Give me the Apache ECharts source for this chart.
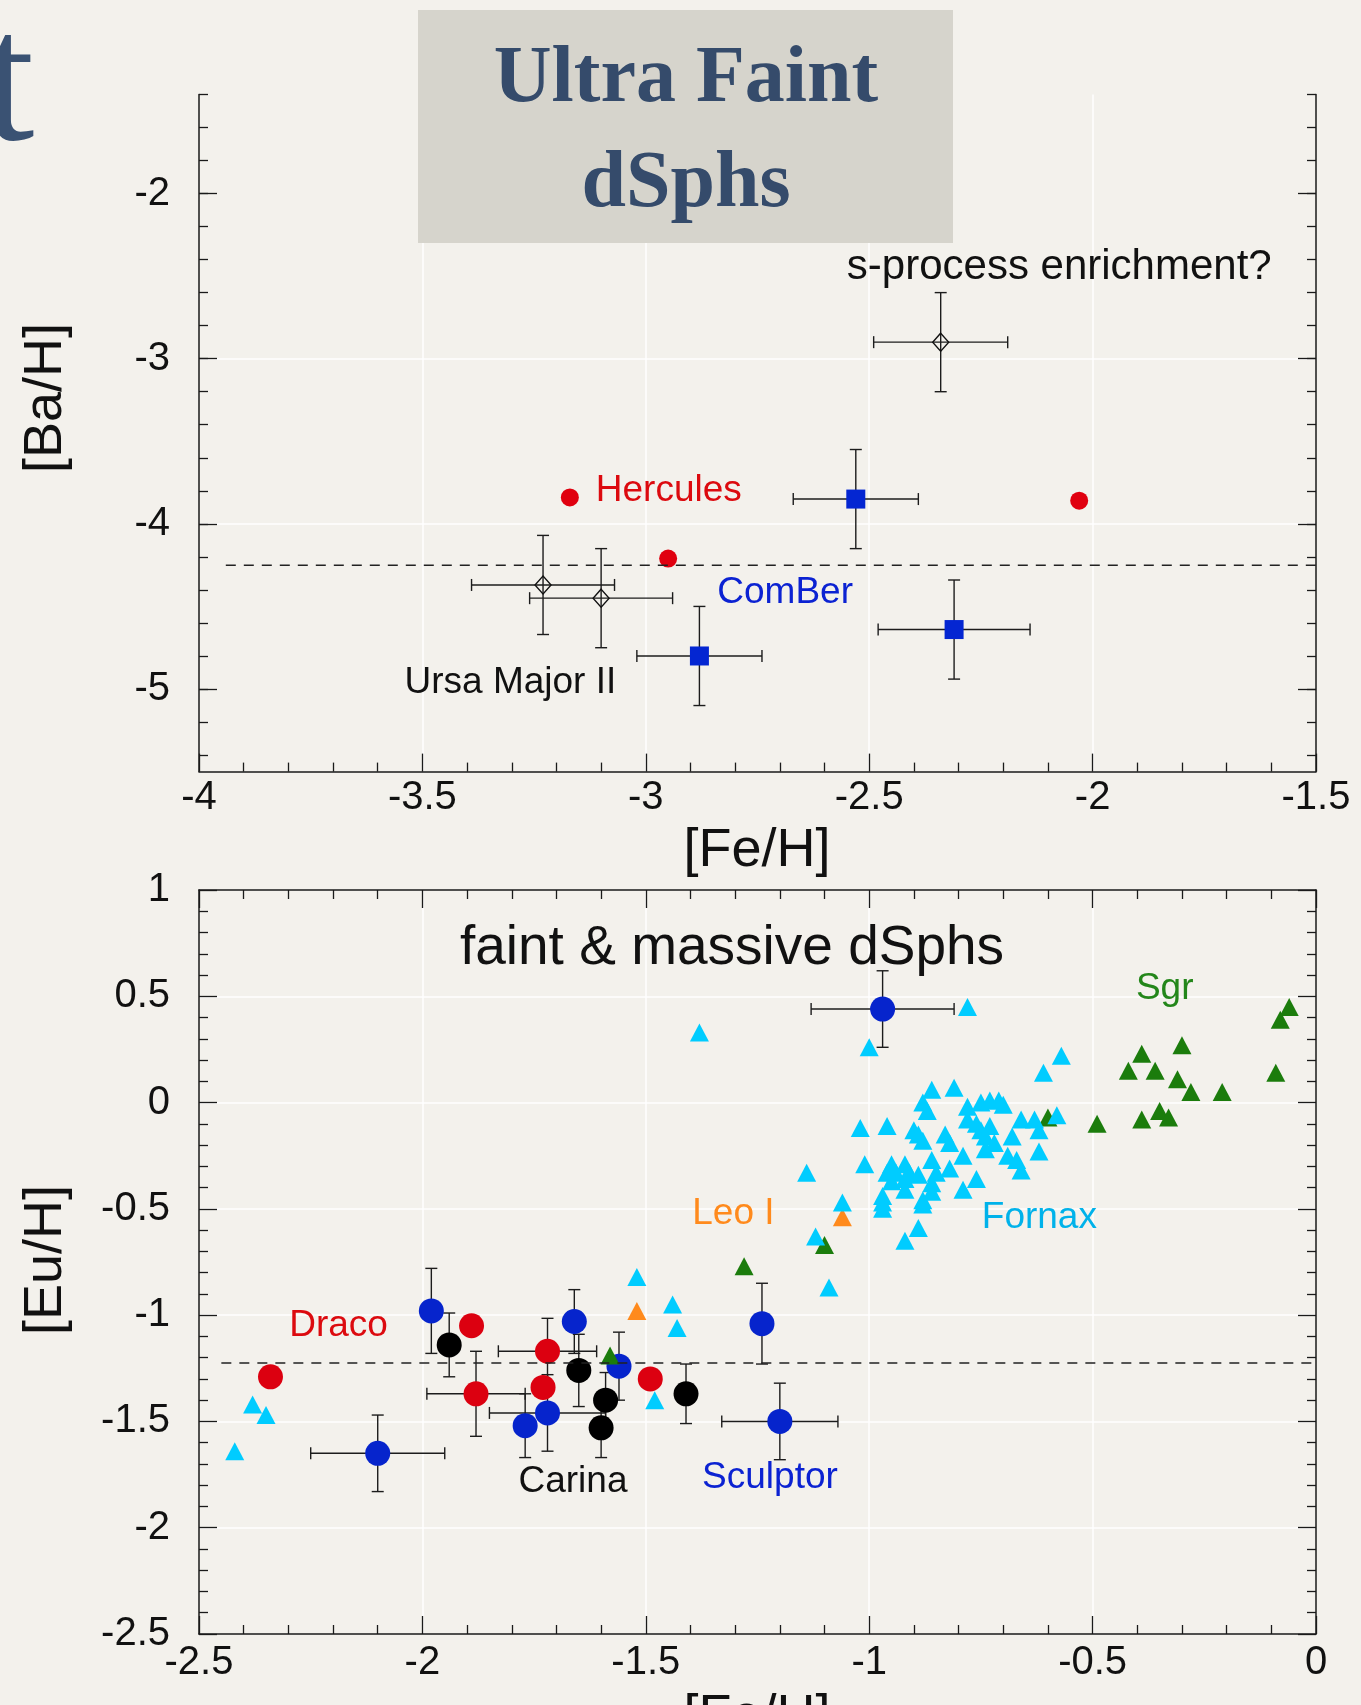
<!DOCTYPE html>
<html>
<head>
<meta charset="utf-8">
<title>Ba and Eu abundances in dwarf spheroidals</title>
<script src="https://cdn.jsdelivr.net/npm/echarts@6/dist/echarts.min.js"></script>
<style>
  html, body { margin: 0; padding: 0; background: #f3f1ec; }
  #chart { width: 1361px; height: 1705px; }
</style>
</head>
<body>
<div id="chart"></div>
<script>
// ---------- upper panel: [Ba/H] vs [Fe/H], ultra faint dSphs ----------
// Ursa Major II stars (plus the s-process candidate), with errors
const umaFe    = [-3.23, -3.10, -2.34];
const umaBa    = [-4.37, -4.45, -2.90];
const umaFeErr = [0.16, 0.16, 0.15];
const umaBaErr = [0.30, 0.30, 0.30];
// Hercules
const herFe = [-3.17, -2.95, -2.03];
const herBa = [-3.84, -4.21, -3.86];
// Coma Berenices
const cbFe    = [-2.53, -2.88, -2.31];
const cbBa    = [-3.85, -4.80, -4.64];
const cbFeErr = [0.14, 0.14, 0.17];
const cbBaErr = [0.30, 0.30, 0.30];
// reference level (dashed)
const baRef = -4.25;
const baRefFrom = -3.94;
// axis ticks
const feTicksTop   = [-4, -3.5, -3, -2.5, -2, -1.5];
const baTicks      = [-5, -4, -3, -2];
const baMinorTicks = [-5.4, -5.2, -5.0, -4.8, -4.6, -4.4, -4.2, -4.0, -3.8, -3.6, -3.4,
                      -3.2, -3.0, -2.8, -2.6, -2.4, -2.2, -2.0, -1.8, -1.6, -1.4];

// ---------- lower panel: [Eu/H] vs [Fe/H], faint & massive dSphs ----------
// Sculptor
const sclFe    = [-0.97, -1.98, -1.66, -1.56, -1.72, -1.77, -2.10, -1.24, -1.20];
const sclEu    = [0.44, -0.98, -1.03, -1.24, -1.46, -1.52, -1.65, -1.04, -1.50];
const sclFeErr = [0.16, 0, 0, 0, 0.13, 0, 0.15, 0, 0.13];
const sclEuErr = [0.18, 0.20, 0.15, 0.16, 0.18, 0.15, 0.18, 0.19, 0.18];
// Draco
const draFe    = [-2.34, -1.89, -1.88, -1.72, -1.73, -1.49];
const draEu    = [-1.29, -1.05, -1.37, -1.17, -1.34, -1.30];
const draFeErr = [0, 0, 0.11, 0.11, 0, 0];
const draEuErr = [0, 0, 0.20, 0.155, 0, 0];
// Carina
const carFe    = [-1.94, -1.65, -1.59, -1.60, -1.41];
const carEu    = [-1.14, -1.26, -1.40, -1.53, -1.37];
const carEuErr = [0.15, 0.17, 0.13, 0.14, 0.14];
// Sagittarius
const sgrFe = [-0.06, -0.08, -0.30, -0.39, -0.42, -0.36, -0.31, -0.09, -0.28, -0.21,
               -0.35, -0.33, -0.39, -0.49, -0.60, -1.10, -1.28, -1.58];
const sgrEu = [0.45, 0.39, 0.27, 0.23, 0.15, 0.15, 0.11, 0.14, 0.05, 0.05,
               -0.04, -0.07, -0.08, -0.10, -0.07, -0.67, -0.77, -1.19];
// Leo I
const leoFe = [-1.06, -1.52];
const leoEu = [-0.54, -0.98];
// Fornax
const fnxFe = [-1.00, -0.57, -0.61, -0.86, -0.81, -0.88, -0.87, -0.78, -0.75, -0.73,
               -0.71, -0.70, -0.66, -0.63, -0.58, -0.62, -1.02, -0.96, -0.90, -0.89,
               -0.88, -0.83, -0.82, -0.78, -0.76, -0.75, -0.73, -0.74, -0.72, -0.74,
               -0.68, -0.62, -0.69, -0.67, -0.66, -0.79, -1.01, -0.95, -0.96, -0.92,
               -0.94, -0.91, -0.89, -0.92, -0.95, -0.86, -0.85, -0.82, -0.76, -0.79,
               -0.86, -0.86, -0.92, -0.97, -0.97, -0.97, -0.88, -0.88, -1.06, -0.89,
               -0.92, -1.38, -0.78, -1.14, -1.12, -1.09, -2.38, -2.35, -2.42, -1.52,
               -1.44, -1.43, -1.48];
const fnxEu = [0.26, 0.22, 0.14, 0.06, 0.07, 0.00, -0.04, -0.02, 0.00, 0.01,
               0.01, -0.01, -0.08, -0.08, -0.06, -0.13, -0.12, -0.11, -0.13, -0.15,
               -0.18, -0.15, -0.19, -0.08, -0.10, -0.13, -0.11, -0.16, -0.19, -0.22,
               -0.16, -0.23, -0.25, -0.27, -0.32, -0.25, -0.29, -0.29, -0.33, -0.29,
               -0.33, -0.33, -0.34, -0.36, -0.37, -0.27, -0.33, -0.31, -0.36, -0.41,
               -0.38, -0.42, -0.41, -0.44, -0.47, -0.50, -0.46, -0.48, -0.47, -0.59,
               -0.65, 0.33, 0.45, -0.33, -0.63, -0.87, -1.42, -1.47, -1.64, -0.82,
               -0.95, -1.06, -1.40];
// reference level (dashed)
const euRef = -1.225;
const euRefFrom = -2.45;
const feTicksBottom = [-2.5, -2, -1.5, -1, -0.5, 0];
const euTicks = [1, 0.5, 0, -0.5, -1, -1.5, -2, -2.5];

// annotations placed at data coordinates (left edge of text)
const topNotes = [
  { text: 'Hercules', fe: -3.112, ab: -3.80, color: '#dc0a0f' },
  { text: 'ComBer', fe: -2.840, ab: -4.415, color: '#0b22d2' },
  { text: 'Ursa Major II', fe: -3.540, ab: -4.96, color: '#111111' },
  { text: 's-process enrichment?', fe: -2.550, ab: -2.447, color: '#111111', size: 42 }
];
const bottomNotes = [
  { text: 'faint & massive dSphs', fe: -1.916, ab: 0.722, color: '#111111', size: 55 },
  { text: 'Sgr', fe: -0.403, ab: 0.533, color: '#23861a' },
  { text: 'Fornax', fe: -0.748, ab: -0.540, color: '#00b2ea' },
  { text: 'Leo I', fe: -1.396, ab: -0.525, color: '#ff8a1c' },
  { text: 'Draco', fe: -2.298, ab: -1.051, color: '#dc0a0f' },
  { text: 'Carina', fe: -1.785, ab: -1.783, color: '#111111' },
  { text: 'Sculptor', fe: -1.374, ab: -1.767, color: '#0b22d2' }
];

// ---------- drawing ----------
const SANS = "'Liberation Sans', Arial, Helvetica, sans-serif";
const SERIF = "'Liberation Serif', 'Times New Roman', serif";
const INK = '#1a1a1a';

const pairs = (xs, ys) => xs.map((v, i) => [v, ys[i]]);
const withErr = (xs, ys, ex, ey) => xs.map((v, i) => [v, ys[i], ex ? ex[i] : 0, ey ? ey[i] : 0]);

function renderErrorBar(params, api) {
  const x = api.value(0), y = api.value(1), ex = api.value(2), ey = api.value(3);
  const cap = 6;
  const kids = [];
  const seg = (x1, y1, x2, y2) => kids.push({
    type: 'line', shape: { x1, y1, x2, y2 },
    style: { stroke: '#1c1c1c', lineWidth: 1.4 }
  });
  if (ex > 0) {
    const a = api.coord([x - ex, y]), b = api.coord([x + ex, y]);
    seg(a[0], a[1], b[0], b[1]);
    seg(a[0], a[1] - cap, a[0], a[1] + cap);
    seg(b[0], b[1] - cap, b[0], b[1] + cap);
  }
  if (ey > 0) {
    const a = api.coord([x, y - ey]), b = api.coord([x, y + ey]);
    seg(a[0], a[1], b[0], b[1]);
    seg(a[0] - cap, a[1], a[0] + cap, a[1]);
    seg(b[0] - cap, b[1], b[0] + cap, b[1]);
  }
  return { type: 'group', children: kids };
}

const axisLine = { show: true, onZero: false, lineStyle: { color: INK, width: 1.5 } };
const noLine = { show: false, onZero: false };
const tickStyle = { color: INK, width: 1.3 };
const gridLines = {
  show: true, showMinLine: false, showMaxLine: false,
  lineStyle: { color: 'rgba(255,255,255,0.95)', width: 1.5 }
};
const tickFont = { fontSize: 40, color: '#111111', fontFamily: SANS };

function marks(symbol, size, color, data, xi, yi, extra) {
  return {
    type: 'scatter', xAxisIndex: xi, yAxisIndex: yi, symbol, symbolSize: size,
    itemStyle: Object.assign({ color, opacity: 1 }, extra || {}), data
  };
}

function noteSeries(notes, xi, yi) {
  return {
    type: 'scatter', xAxisIndex: xi, yAxisIndex: yi, silent: true, z: 5,
    symbolSize: 0, itemStyle: { color: 'rgba(0,0,0,0)', opacity: 1 },
    data: notes.map(n => ({
      name: n.text, value: [n.fe, n.ab],
      label: { color: n.color, fontSize: n.size || 37 }
    })),
    label: {
      show: true, position: 'right', distance: 0, formatter: '{b}', opacity: 1,
      fontFamily: SANS, fontSize: 37
    }
  };
}

const chart = echarts.init(document.getElementById('chart'), null, { renderer: 'canvas' });

const option = {
  backgroundColor: '#f3f1ec',
  animation: false,
  grid: [
    { left: 199, right: 45, top: 94.4, height: 677.2 },
    { left: 199, right: 45, top: 890, height: 744 }
  ],
  xAxis: [
    { // upper panel, bottom axis
      type: 'value', gridIndex: 0, position: 'bottom', min: -4, max: -1.5, interval: 0.5,
      axisLine, axisTick: { show: true, inside: true, length: 18, lineStyle: tickStyle },
      minorTick: { show: true, splitNumber: 5, length: 9, lineStyle: tickStyle },
      axisLabel: Object.assign({ show: true, margin: 6 }, tickFont),
      splitLine: gridLines
    },
    { // lower panel, bottom axis
      type: 'value', gridIndex: 1, position: 'bottom', min: -2.5, max: 0, interval: 0.5,
      axisLine, axisTick: { show: true, inside: true, length: 18, lineStyle: tickStyle },
      minorTick: { show: true, splitNumber: 5, length: 9, lineStyle: tickStyle },
      axisLabel: Object.assign({ show: true, margin: 9 }, tickFont),
      splitLine: gridLines
    },
    { // lower panel, top frame
      type: 'value', gridIndex: 1, position: 'top', min: -2.5, max: 0, interval: 0.5,
      axisLine, axisTick: { show: true, inside: true, length: 18, lineStyle: tickStyle },
      minorTick: { show: true, splitNumber: 5, length: 9, lineStyle: tickStyle },
      axisLabel: { show: false }, splitLine: { show: false }
    }
  ],
  yAxis: [
    { // upper panel, left: labelled integers
      type: 'value', gridIndex: 0, position: 'left', min: -5.5, max: -1.4, splitNumber: 4,
      axisLine,
      axisTick: { show: true, inside: true, length: 18, lineStyle: tickStyle, customValues: baTicks },
      axisLabel: Object.assign({ show: true, margin: 29, customValues: baTicks }, tickFont),
      splitLine: gridLines
    },
    { // upper panel, left: fine ticks
      type: 'value', gridIndex: 0, position: 'left', min: -5.5, max: -1.4,
      axisLine: noLine,
      axisTick: { show: true, inside: true, length: 9, lineStyle: tickStyle, customValues: baMinorTicks },
      axisLabel: { show: false }, splitLine: { show: false }
    },
    { // upper panel, right frame
      type: 'value', gridIndex: 0, position: 'right', min: -5.5, max: -1.4,
      axisLine,
      axisTick: { show: true, inside: true, length: 18, lineStyle: tickStyle, customValues: baTicks },
      axisLabel: { show: false }, splitLine: { show: false }
    },
    {
      type: 'value', gridIndex: 0, position: 'right', min: -5.5, max: -1.4,
      axisLine: noLine,
      axisTick: { show: true, inside: true, length: 9, lineStyle: tickStyle, customValues: baMinorTicks },
      axisLabel: { show: false }, splitLine: { show: false }
    },
    { // lower panel, left
      type: 'value', gridIndex: 1, position: 'left', min: -2.5, max: 1, interval: 0.5,
      axisLine, axisTick: { show: true, inside: true, length: 18, lineStyle: tickStyle },
      minorTick: { show: true, splitNumber: 5, length: 9, lineStyle: tickStyle },
      axisLabel: Object.assign({ show: true, margin: 29 }, tickFont),
      splitLine: gridLines
    },
    { // lower panel, right frame
      type: 'value', gridIndex: 1, position: 'right', min: -2.5, max: 1, interval: 0.5,
      axisLine, axisTick: { show: true, inside: true, length: 18, lineStyle: tickStyle },
      minorTick: { show: true, splitNumber: 5, length: 9, lineStyle: tickStyle },
      axisLabel: { show: false }, splitLine: { show: false }
    }
  ],
  series: [
    // ----- upper panel -----
    {
      type: 'line', xAxisIndex: 0, yAxisIndex: 0, symbol: 'none', silent: true,
      data: [[baRefFrom, baRef], [-1.5, baRef]],
      lineStyle: { color: '#222222', width: 1.5, type: [10, 8], opacity: 1 }
    },
    {
      type: 'custom', xAxisIndex: 0, yAxisIndex: 0, renderItem: renderErrorBar,
      encode: { x: 0, y: 1 },
      data: withErr(umaFe, umaBa, umaFeErr, umaBaErr).concat(withErr(cbFe, cbBa, cbFeErr, cbBaErr))
    },
    marks('circle', 18, '#e0000f', pairs(herFe, herBa), 0, 0),
    marks('rect', 19, '#0426d2', pairs(cbFe, cbBa), 0, 0),
    marks('diamond', [16, 18], 'rgba(0,0,0,0)', pairs(umaFe, umaBa), 0, 0,
          { borderColor: '#111111', borderWidth: 1.4 }),
    noteSeries(topNotes, 0, 0),

    // ----- lower panel -----
    {
      type: 'line', xAxisIndex: 1, yAxisIndex: 4, symbol: 'none', silent: true,
      data: [[euRefFrom, euRef], [0, euRef]],
      lineStyle: { color: '#222222', width: 1.5, type: [10, 8], opacity: 1 }
    },
    {
      type: 'custom', xAxisIndex: 1, yAxisIndex: 4, renderItem: renderErrorBar,
      encode: { x: 0, y: 1 },
      data: withErr(sclFe, sclEu, sclFeErr, sclEuErr)
        .concat(withErr(draFe, draEu, draFeErr, draEuErr))
        .concat(withErr(carFe, carEu, null, carEuErr))
    },
    marks('circle', 25, '#dc0010', pairs(draFe, draEu), 1, 4),
    marks('circle', 25, '#000000', pairs(carFe, carEu), 1, 4),
    marks('circle', 25, '#0624cc', pairs(sclFe, sclEu), 1, 4),
    marks('triangle', [19, 18], '#1b7c0c', pairs(sgrFe, sgrEu), 1, 4),
    marks('triangle', [19, 18], '#ff8a1c', pairs(leoFe, leoEu), 1, 4),
    marks('triangle', [19, 18], '#00ccff', pairs(fnxFe, fnxEu), 1, 4),
    noteSeries(bottomNotes, 1, 4)
  ],
  graphic: [
    { // tail of the slide heading
      type: 'text', x: -17, y: 90, z: 100,
      style: { text: 't', font: 'normal 185px ' + SERIF, fill: '#3a5273', textVerticalAlign: 'middle' }
    },
    {
      type: 'rect', z: 100, shape: { x: 418, y: 10, width: 535, height: 233 },
      style: { fill: '#d6d4cc' }
    },
    {
      type: 'text', x: 686, y: 80, z: 101,
      style: { text: 'Ultra Faint', font: 'bold 80px ' + SERIF, fill: '#354b6b',
               textAlign: 'center', textVerticalAlign: 'middle' }
    },
    {
      type: 'text', x: 686, y: 185, z: 101,
      style: { text: 'dSphs', font: 'bold 80px ' + SERIF, fill: '#354b6b',
               textAlign: 'center', textVerticalAlign: 'middle' }
    },
    {
      type: 'text', x: 46, y: 398, rotation: Math.PI / 2, z: 50,
      style: { text: '[Ba/H]', font: '54px ' + SANS, fill: '#111111',
               textAlign: 'center', textVerticalAlign: 'middle' }
    },
    {
      type: 'text', x: 757, y: 851, z: 50,
      style: { text: '[Fe/H]', font: '54px ' + SANS, fill: '#111111',
               textAlign: 'center', textVerticalAlign: 'middle' }
    },
    {
      type: 'text', x: 46, y: 1260, rotation: Math.PI / 2, z: 50,
      style: { text: '[Eu/H]', font: '54px ' + SANS, fill: '#111111',
               textAlign: 'center', textVerticalAlign: 'middle' }
    },
    {
      type: 'text', x: 757, y: 1717, z: 50,
      style: { text: '[Fe/H]', font: '54px ' + SANS, fill: '#111111',
               textAlign: 'center', textVerticalAlign: 'middle' }
    }
  ]
};

chart.setOption(option);
</script>
</body>
</html>
